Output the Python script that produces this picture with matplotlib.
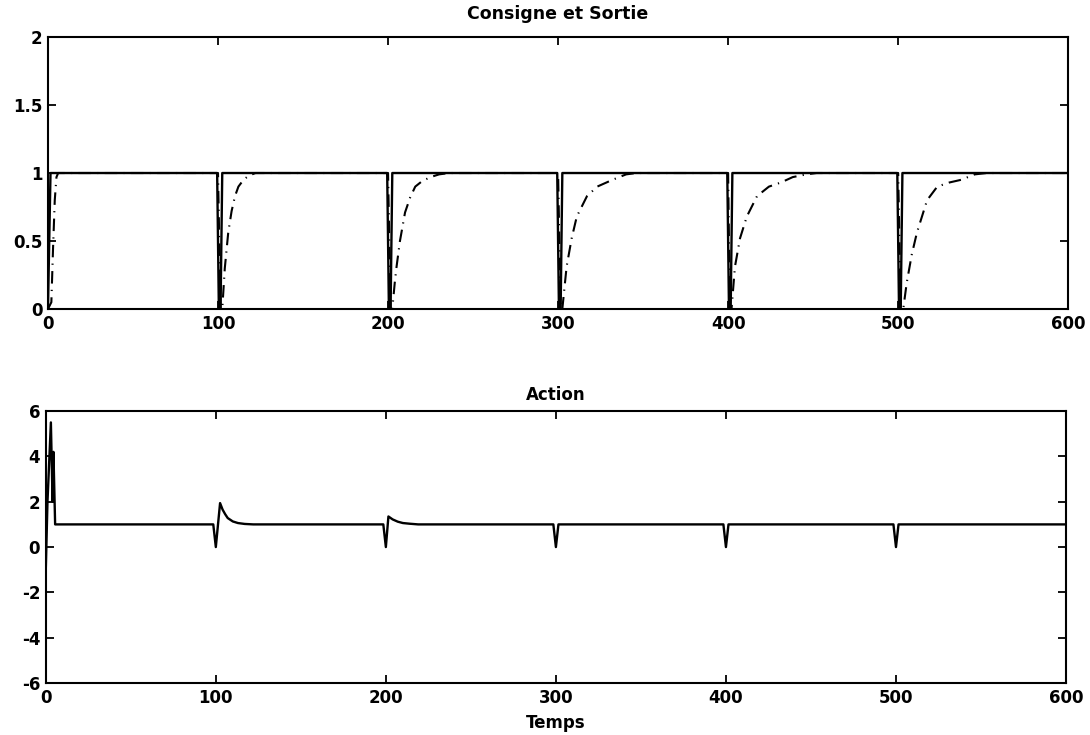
import numpy as np
import matplotlib
matplotlib.use('Agg')
import matplotlib.pyplot as plt

plt.rcParams['font.family'] = 'DejaVu Sans'
plt.rcParams['font.weight'] = 'bold'
plt.rcParams['axes.unicode_minus'] = False

# setpoint (consigne), square wave with short drops to 0 every 100 s
consigne_t = [0, 1.5, 99.5, 100.5, 101.5, 102.5, 199.5, 200.5, 201.5, 202.5, 299.5, 300.5, 301.5, 302.5,
              399.5, 400.5, 401.5, 402.5, 499.5, 500.5, 501.5, 502.5, 600]
consigne_y = [0, 1, 1, 0, 0, 1, 1, 0, 0, 1, 1, 0, 0, 1,
              1, 0, 0, 1, 1, 0, 0, 1, 1]

# output (sortie)
sortie_t = [0, 2, 3, 4, 5, 6,
            100, 101.5, 102.5, 104, 106, 108, 110, 112, 115, 118, 122,
            200, 201.5, 202.5, 204, 205, 207, 210, 213, 216, 220, 225, 230, 236,
            300, 301.5, 302.5, 305, 308, 311, 317, 323, 332, 340, 346,
            400, 401, 402, 404, 407, 411, 417, 424, 431, 438, 446, 452,
            500, 501.5, 503, 505, 508, 511, 517, 523, 530, 537, 545, 552, 600]
sortie_y = [0, 0.05, 0.45, 0.8, 0.97, 1,
            1, 0, 0, 0.3, 0.56, 0.72, 0.83, 0.9, 0.95, 0.98, 1,
            1, 0, 0, 0.2, 0.31, 0.5, 0.71, 0.82, 0.9, 0.94, 0.97, 0.99, 1,
            1, 0, 0, 0.31, 0.52, 0.68, 0.83, 0.9, 0.95, 0.99, 1,
            1, 0, 0, 0.31, 0.52, 0.68, 0.83, 0.9, 0.93, 0.97, 0.99, 1,
            1, 0, 0, 0.19, 0.4, 0.56, 0.8, 0.9, 0.93, 0.95, 0.99, 1, 1]

# control action
action_t = [0, 1, 3, 4, 4.5, 5.5,
            98.5, 100, 102.5, 104, 105.5, 107, 110, 113, 117, 122,
            198.5, 200, 201.5, 204, 207, 210, 214, 219,
            298.5, 300, 301.5, 398.5, 400, 401.5, 498.5, 500, 501.5, 600]
action_y = [-1, 2, 5.5, 2, 4.2, 1,
            1, 0, 1.94, 1.65, 1.45, 1.28, 1.13, 1.06, 1.02, 1,
            1, 0, 1.35, 1.22, 1.12, 1.06, 1.03, 1,
            1, 0, 1, 1, 0, 1, 1, 0, 1, 1]

xticks = [0, 100, 200, 300, 400, 500, 600]

fig = plt.figure(figsize=(10.9, 7.35), dpi=100)
ax1 = fig.add_axes([0.044, 0.5796, 0.936, 0.370])
ax2 = fig.add_axes([0.042, 0.0707, 0.936, 0.370])

ax1.plot(consigne_t, consigne_y, color='black', lw=1.7)
ax1.plot(sortie_t, sortie_y, color='black', lw=1.5, linestyle=(0, (6, 3, 0.6, 3)))
ax1.set_xlim(0, 600)
ax1.set_ylim(0, 2)
ax1.set_yticks([0, 0.5, 1, 1.5, 2])
ax1.set_yticklabels(['0', '0.5', '1', '1.5', '2'])
ax1.set_title('Consigne et Sortie', fontsize=12.5, fontweight='bold', pad=13)

ax2.plot(action_t, action_y, color='black', lw=1.7)
ax2.set_xlim(0, 600)
ax2.set_ylim(-6, 6)
ax2.set_yticks([-6, -4, -2, 0, 2, 4, 6])
ax2.set_title('Action', fontsize=12, fontweight='bold', pad=8)
ax2.set_xlabel('Temps', fontsize=12, fontweight='bold', labelpad=5)

for ax in (ax1, ax2):
    ax.set_xticks(xticks)
    ax.tick_params(direction='in', top=True, right=True, length=6, width=1.3,
                   labelsize=12, pad=4)
    for s in ax.spines.values():
        s.set_linewidth(1.5)
    for lab in ax.get_xticklabels() + ax.get_yticklabels():
        lab.set_fontweight('bold')

fig.savefig('out.png', dpi=100)
